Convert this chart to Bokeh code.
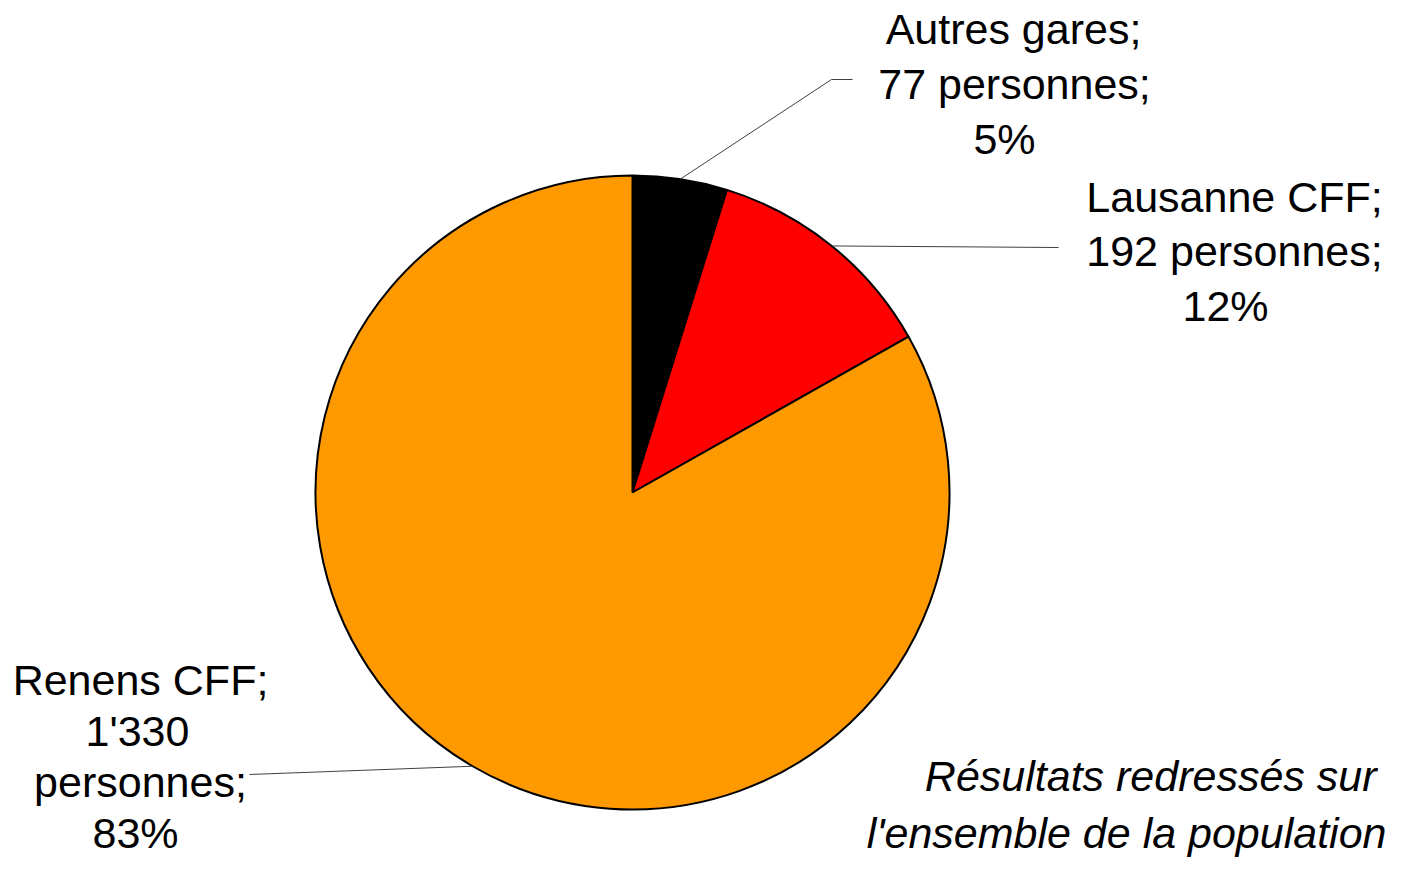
import math
from bokeh.plotting import figure
from bokeh.models import Range1d, ColumnDataSource
from bokeh.core.properties import value
from bokeh.embed import file_html
from bokeh.resources import INLINE

# ---- data ----
names = ["Autres gares", "Lausanne CFF", "Renens CFF"]
counts = [77, 192, 1330]
colors = ["#000000", "#FF0000", "#FF9900"]
note_lines = ["Résultats redressés sur", "l'ensemble de la population"]

# ---- layout (pixel coordinates from top-left; y measured downward) ----
W, H = 1388, 859
CX, CY, R = 632, 492, 317
FONT = "Liberation Sans"
FS = "43px"
SHIFT = 15  # renderer places alphabetic baseline this much lower
# per-label: line centre x's, first baseline, line step, leader end points
label_layout = [
    dict(xs=[1013, 1014, 1004], y0=43, step=55, leader=[(831, 79), (852, 79)]),
    dict(xs=[1234, 1234, 1225], y0=211, step=54.5, leader=[(1058, 247)]),
    dict(xs=[140, 137, 140, 135], y0=694, step=51, leader=[(249, 774)]),
]
note_layout = dict(xs=[1376, 1386], ys=[790, 847])


def fy(py):
    return H - py


p = figure(width=W, height=H, output_backend="svg", toolbar_location=None,
           x_range=Range1d(0, W), y_range=Range1d(0, H),
           min_border=0, outline_line_color=None)
p.axis.visible = False
p.grid.visible = False
p.background_fill_color = "white"

total = sum(counts)
cum = 0
starts, ends, mids = [], [], []
for c in counts:
    a0 = math.pi / 2 - 2 * math.pi * cum / total
    cum += c
    a1 = math.pi / 2 - 2 * math.pi * cum / total
    starts.append(a0)
    ends.append(a1)
    mids.append((a0 + a1) / 2)

src = ColumnDataSource(dict(start=starts, end=ends, color=colors))
p.wedge(x=CX, y=fy(CY), radius=R, start_angle="start", end_angle="end",
        direction="clock", fill_color="color", line_color="black",
        line_width=2, source=src)

# labels
tx, ty, tt = [], [], []
for i, (name, c) in enumerate(zip(names, counts)):
    pct = round(100 * c / total)
    cs = f"{c:,}".replace(",", "'")
    if i == 2:
        lines = [f"{name};", cs, "personnes;", f"{pct}%"]
    else:
        lines = [f"{name};", f"{cs} personnes;", f"{pct}%"]
    lay = label_layout[i]
    for k, line in enumerate(lines):
        tx.append(lay["xs"][k])
        ty.append(fy(lay["y0"] + k * lay["step"] - SHIFT))
        tt.append(line)
    # leader line from slice edge midpoint
    sx = CX + R * math.cos(mids[i])
    sy = fy(CY) + R * math.sin(mids[i])
    lx = [sx] + [pt[0] for pt in lay["leader"]]
    ly = [sy] + [fy(pt[1]) for pt in lay["leader"]]
    p.line(lx, ly, line_color="#404040", line_width=1)

p.text(x=tx, y=ty, text=tt, text_font=value(FONT), text_font_size=FS,
       text_align="center", text_baseline="alphabetic", text_color="black")

p.text(x=note_layout["xs"], y=[fy(v - SHIFT) for v in note_layout["ys"]], text=note_lines,
       text_font=value(FONT), text_font_size=FS, text_font_style="italic",
       text_align="right", text_baseline="alphabetic", text_color="black")

open("out.html", "w").write(file_html(p, INLINE))
